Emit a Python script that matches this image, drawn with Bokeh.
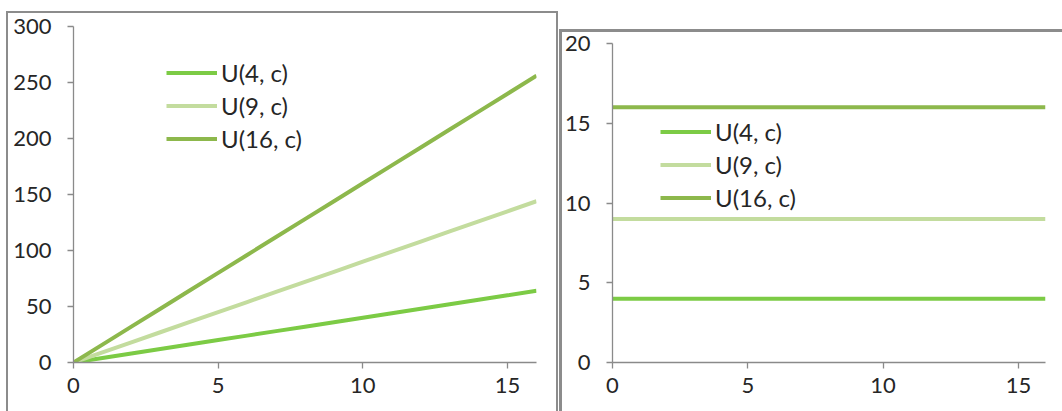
from bokeh.plotting import figure
from bokeh.layouts import row
from bokeh.models import Range1d, Legend, LegendItem, FixedTicker
from bokeh.embed import file_html
from bokeh.resources import INLINE

# ---- data ----
c_vals = [0, 1, 2, 3, 4, 5, 6, 7, 8, 9, 10, 11, 12, 13, 14, 15, 16]
u4_left = [0, 4, 8, 12, 16, 20, 24, 28, 32, 36, 40, 44, 48, 52, 56, 60, 64]
u9_left = [0, 9, 18, 27, 36, 45, 54, 63, 72, 81, 90, 99, 108, 117, 126, 135, 144]
u16_left = [0, 16, 32, 48, 64, 80, 96, 112, 128, 144, 160, 176, 192, 208, 224, 240, 256]

u4_right = [4] * 17
u9_right = [9] * 17
u16_right = [16] * 17

series_names = ["U(4, c)", "U(9, c)", "U(16, c)"]
series_colors = ["#7ccb45", "#c3dc9e", "#8db84c"]

left_yticks = [0, 50, 100, 150, 200, 250, 300]
right_yticks = [0, 5, 10, 15, 20]
xticks = [0, 5, 10, 15]

FONT = "Lato"
TICK_FS = "22px"
LEG_FS = "24px"
TXT = "#262626"
AX = "#8a8a8a"
BORDER = "#8c8c8c"


def box_styles(lines):
    """CSS background layers that draw the chart-area border lines behind a transparent canvas."""
    g = f"linear-gradient({BORDER}, {BORDER})"
    return {
        "background-color": "white",
        "background-image": ", ".join([g] * len(lines)),
        "background-position": ", ".join(pos for pos, _ in lines),
        "background-size": ", ".join(size for _, size in lines),
        "background-repeat": "no-repeat",
    }


def style_axes(p, yticks):
    for axes in (p.xaxis, p.yaxis):
        axes.axis_line_color = AX
        axes.axis_line_width = 1.3
        axes.major_tick_line_color = AX
        axes.major_tick_line_width = 1.3
        axes.major_tick_out = 6
        axes.major_tick_in = 0
        axes.minor_tick_line_color = None
        axes.major_label_text_font = FONT
        axes.major_label_text_font_size = TICK_FS
        axes.major_label_text_color = TXT
    p.xaxis.ticker = FixedTicker(ticks=xticks)
    p.yaxis.ticker = FixedTicker(ticks=yticks)
    p.xaxis.major_label_standoff = 9
    p.yaxis.major_label_standoff = 16
    p.xgrid.grid_line_color = None
    p.ygrid.grid_line_color = None
    p.outline_line_color = None
    p.border_fill_color = None
    p.background_fill_color = None


def add_legend(p, renderers, loc):
    items = [LegendItem(label=n, renderers=[r]) for n, r in zip(series_names, renderers)]
    lg = Legend(items=items, location=loc)
    lg.label_text_font = FONT
    lg.label_text_font_size = LEG_FS
    lg.label_text_color = TXT
    lg.glyph_width = 51
    lg.glyph_height = 33
    lg.label_height = 33
    lg.label_standoff = 4
    lg.spacing = 0
    lg.padding = 0
    lg.margin = 0
    lg.border_line_color = None
    lg.background_fill_alpha = 0
    p.add_layout(lg, "center")


# ---- left panel ----
p1 = figure(width=558, height=411, output_backend="svg", toolbar_location=None,
            x_range=Range1d(0, 16), y_range=Range1d(0, 300),
            min_border_left=73, min_border_right=22, min_border_top=26, min_border_bottom=49,
            styles=box_styles([("6px 11px", "2px 420px"),
                               ("6px 11px", "552px 2px"),
                               ("556px 11px", "2px 420px")]))
style_axes(p1, left_yticks)
r1 = []
for ys, col in zip([u4_left, u9_left, u16_left], series_colors):
    r1.append(p1.line(c_vals, ys, line_color=col, line_width=4))
add_legend(p1, r1, (93, 207))

# ---- right panel ----
p2 = figure(width=504, height=394, output_backend="svg", toolbar_location=None,
            x_range=Range1d(0, 16), y_range=Range1d(0, 20),
            min_border_left=54, min_border_right=17, min_border_top=26, min_border_bottom=49,
            margin=(17, 0, 0, 0),
            styles=box_styles([("1px 12px", "3px 420px"),
                               ("1px 12px", "520px 3px")]))
style_axes(p2, right_yticks)
r2 = []
for ys, col in zip([u4_right, u9_right, u16_right], series_colors):
    r2.append(p2.line(c_vals, ys, line_color=col, line_width=4))
add_legend(p2, r2, (48, 148))

layout = row(p1, p2)
html = file_html(layout, INLINE)
open("out.html", "w").write(html)
